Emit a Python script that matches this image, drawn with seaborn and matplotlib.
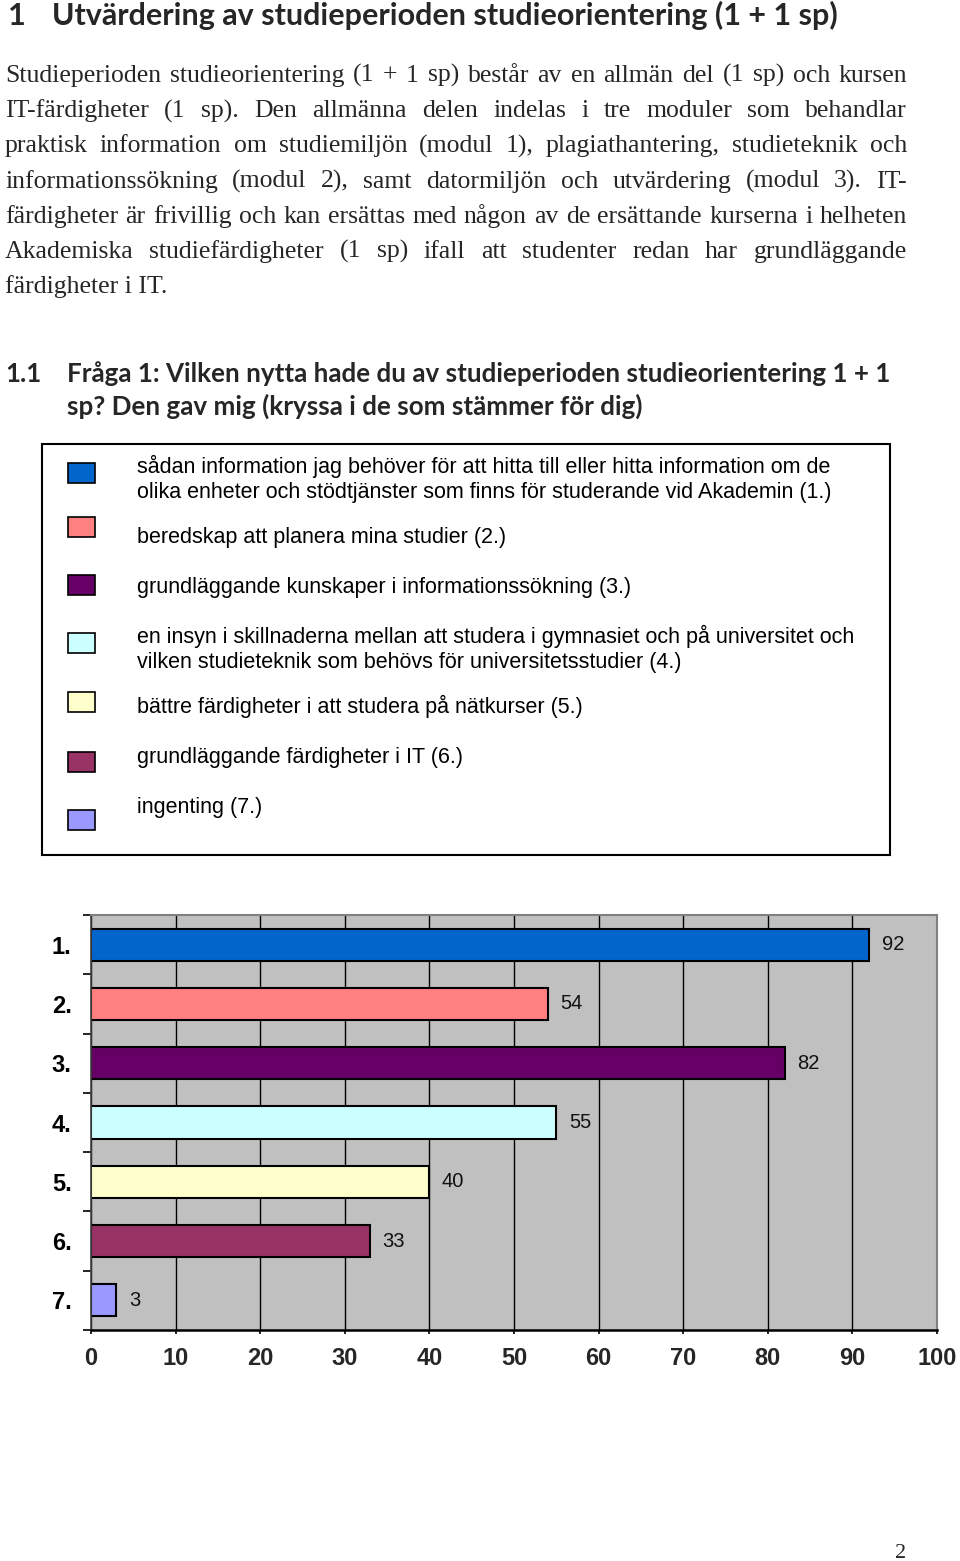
import numpy as np
import pandas as pd
import matplotlib
matplotlib.use("Agg")
import matplotlib.pyplot as plt
import seaborn as sns
from matplotlib.patches import Rectangle

# ---- data ----
categories = ["1.", "2.", "3.", "4.", "5.", "6.", "7."]
answers = [92, 54, 82, 55, 40, 33, 3]
bar_colors = ["#0066CC", "#FF8080", "#660066", "#CCFFFF", "#FFFFCC", "#993366", "#9999FF"]
legend_labels = [
    "sådan information jag behöver för att hitta till eller hitta information om de\n"
    "olika enheter och stödtjänster som finns för studerande vid Akademin (1.)",
    "beredskap att planera mina studier (2.)",
    "grundläggande kunskaper i informationssökning (3.)",
    "en insyn i skillnaderna mellan att studera i gymnasiet och på universitet och\n"
    "vilken studieteknik som behövs för universitetsstudier (4.)",
    "bättre färdigheter i att studera på nätkurser (5.)",
    "grundläggande färdigheter i IT (6.)",
    "ingenting (7.)",
]
x_ticks = list(range(0, 101, 10))

heading_no = "1"
heading = "Utvärdering av studieperioden studieorientering (1 + 1 sp)"
body_lines = [
    "Studieperioden studieorientering (1 + 1 sp) består av en allmän del (1 sp) och kursen",
    "IT-färdigheter (1 sp). Den allmänna delen indelas i tre moduler som behandlar",
    "praktisk information om studiemiljön (modul 1), plagiathantering, studieteknik och",
    "informationssökning (modul 2), samt datormiljön och utvärdering (modul 3). IT-",
    "färdigheter är frivillig och kan ersättas med någon av de ersättande kurserna i helheten",
    "Akademiska studiefärdigheter (1 sp) ifall att studenter redan har grundläggande",
    "färdigheter i IT.",
]
question_no = "1.1"
question_lines = [
    "Fråga 1: Vilken nytta hade du av studieperioden studieorientering 1 + 1",
    "sp? Den gav mig (kryssa i de som stämmer för dig)",
]
page_no = "2"

sns.set_theme(style="white")
plt.rcParams['font.family'] = ['Liberation Sans', 'DejaVu Sans']

fig = plt.figure(figsize=(9.6, 15.61), dpi=100)
fig.patch.set_facecolor("white")

# page axes in pixel coordinates (y downwards)
page = fig.add_axes([0, 0, 1, 1], zorder=0)
page.set_xlim(0, 960)
page.set_ylim(1561, 0)
page.axis("off")

renderer = fig.canvas.get_renderer()
serif = ['Liberation Serif', 'DejaVu Serif']
head_font = ['Lato', 'DejaVu Sans']

# heading
page.text(8, 25, heading_no, fontsize=22, fontweight='bold', family=head_font, va='baseline')
page.text(52, 25, heading, fontsize=22, fontweight='bold', family=head_font, va='baseline')

# justified body text
def justify(words, x0, x1, y, **kw):
    texts = [page.text(0, y, w, va='baseline', **kw) for w in words]
    widths = [t.get_window_extent(renderer).width for t in texts]
    gap = (x1 - x0 - sum(widths)) / max(len(words) - 1, 1)
    x = x0
    for t, w in zip(texts, widths):
        t.set_x(x)
        x += w + gap

for i, line in enumerate(body_lines):
    y = 82 + i * 35.2
    if i == len(body_lines) - 1:
        page.text(5, y, line, fontsize=18.5, family=serif, va='baseline')
    else:
        justify(line.split(" "), 5, 907, y, fontsize=18.5, family=serif)

# question heading
page.text(5, 382, question_no, fontsize=18.7, fontweight='bold', family=head_font, va='baseline')
page.text(67, 382, question_lines[0], fontsize=18.7, fontweight='bold', family=head_font, va='baseline')
page.text(67, 415, question_lines[1], fontsize=18.7, fontweight='bold', family=head_font, va='baseline')

# legend box
page.add_patch(Rectangle((42, 444), 848, 411, fill=False, edgecolor='black', lw=1.5))
square_tops = [463, 517, 575, 633, 692, 752, 810]
text_centers = [466, 536, 586, 636, 706, 756, 806]
for lab, col, sq, tc in zip(legend_labels, bar_colors, square_tops, text_centers):
    page.add_patch(Rectangle((68, sq), 27, 20, facecolor=col, edgecolor='black', lw=1.2))
    for k, part in enumerate(lab.split("\n")):
        page.text(137, tc + 7 + k * 25, part, fontsize=15.5, va='baseline', color='black')

# page number
page.text(901, 1558, page_no, fontsize=16, family=serif, ha='center', va='baseline')

# ---- bar chart ----
ax = fig.add_axes([91 / 960, (1561 - 1330) / 1561, 846 / 960, 415 / 1561], zorder=1)
df = pd.DataFrame({"kategori": categories, "antal": answers})
sns.barplot(data=df, x="antal", y="kategori", hue="kategori", palette=bar_colors,
            legend=False, orient='h', width=0.54, saturation=1,
            edgecolor='black', linewidth=1.5, ax=ax)
ax.set_facecolor("#C0C0C0")
ax.set_xlim(0, 100)
ax.set_ylim(len(categories) - 0.5, -0.5)
ax.set_xticks(x_ticks)
ax.xaxis.grid(True, color='black', lw=1)
ax.yaxis.grid(False)
ax.set_axisbelow(True)
ax.set_xlabel("")
ax.set_ylabel("")

for c in ax.containers:
    ax.bar_label(c, padding=9, fontsize=14.5, color='#111111')

for lab in ax.get_yticklabels() + ax.get_xticklabels():
    lab.set_fontweight('bold')
    lab.set_fontsize(17)

ax.tick_params(axis='y', which='major', length=0, pad=14, colors='black')
ax.set_yticks(np.arange(-0.5, len(categories), 1.0), minor=True)
ax.tick_params(axis='y', which='minor', length=6, width=1.2, color='black', left=True)
ax.tick_params(axis='x', which='major', length=3, width=1.2, color='black', pad=9, bottom=True)

for side in ['top', 'right']:
    ax.spines[side].set_color('#808080')
    ax.spines[side].set_linewidth(1.5)
ax.spines['left'].set_color('#404040')
ax.spines['left'].set_linewidth(1.2)
ax.spines['bottom'].set_color('black')
ax.spines['bottom'].set_linewidth(1.8)

fig.savefig("out.png", dpi=100)
